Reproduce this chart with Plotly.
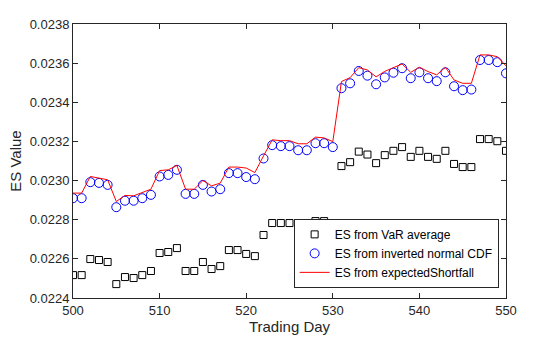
import plotly.graph_objects as go

days = list(range(500, 551))

es_var_avg = [
    0.022517, 0.022517, 0.022599, 0.022594, 0.022584, 0.022471, 0.022507, 0.022502, 0.022517, 0.022538,
    0.022630, 0.022635, 0.022655, 0.022538, 0.022538, 0.022584, 0.022548, 0.022563, 0.022645, 0.022645,
    0.022625, 0.022614, 0.022722, 0.022783, 0.022783, 0.022783, 0.022762, 0.022762, 0.022793, 0.022793,
    0.022773, 0.023074, 0.023094, 0.023148, 0.023133, 0.023089, 0.023130, 0.023152, 0.023171, 0.023121,
    0.023152, 0.023121, 0.023111, 0.023152, 0.023085, 0.023069, 0.023069, 0.023212, 0.023212, 0.023201,
    0.023152,
]

es_norm_cdf = [
    0.022910, 0.022910, 0.022992, 0.022988, 0.022978, 0.022864, 0.022897, 0.022897, 0.022910, 0.022927,
    0.023021, 0.023029, 0.023055, 0.022932, 0.022932, 0.022978, 0.022944, 0.022956, 0.023038, 0.023038,
    0.023018, 0.023007, 0.023113, 0.023181, 0.023176, 0.023176, 0.023155, 0.023155, 0.023191, 0.023191,
    0.023171, 0.023472, 0.023497, 0.023560, 0.023536, 0.023492, 0.023527, 0.023551, 0.023574, 0.023523,
    0.023553, 0.023523, 0.023508, 0.023553, 0.023482, 0.023462, 0.023465, 0.023616, 0.023616, 0.023605,
    0.023548,
]

es_expected_sf = [
    0.022936, 0.022936, 0.023021, 0.023014, 0.023004, 0.022893, 0.022924, 0.022922, 0.022939, 0.022956,
    0.023051, 0.023055, 0.023077, 0.022956, 0.022956, 0.023000, 0.022973, 0.022987, 0.023069, 0.023069,
    0.023064, 0.023041, 0.023126, 0.023208, 0.023204, 0.023204, 0.023188, 0.023188, 0.023222, 0.023218,
    0.023199, 0.023506, 0.023526, 0.023577, 0.023565, 0.023530, 0.023558, 0.023576, 0.023596, 0.023553,
    0.023579, 0.023557, 0.023540, 0.023579, 0.023514, 0.023497, 0.023497, 0.023642, 0.023642, 0.023633,
    0.023586,
]

names = ["ES from VaR average", "ES from inverted normal CDF", "ES from expectedShortfall"]

axcol = "#262626"
font_family = "Liberation Sans, Arial, sans-serif"

fig = go.Figure()
fig.add_trace(go.Scatter(
    x=days, y=es_var_avg, mode="markers", name=names[0],
    marker=dict(symbol="square-open", size=7, color="black", line=dict(width=1)),
))
fig.add_trace(go.Scatter(
    x=days, y=es_norm_cdf, mode="markers", name=names[1],
    marker=dict(symbol="circle-open", size=9, color="blue", line=dict(width=1)),
))
fig.add_trace(go.Scatter(
    x=days, y=es_expected_sf, mode="lines", name=names[2],
    line=dict(color="red", width=1),
))

fig.update_layout(
    width=560, height=337,
    margin=dict(l=73, r=54, t=24, b=39, autoexpand=False),
    paper_bgcolor="white", plot_bgcolor="white",
    font=dict(family=font_family, size=13, color=axcol),
    showlegend=True,
    legend=dict(
        x=0.983, y=0.037, xanchor="right", yanchor="bottom",
        bordercolor=axcol, borderwidth=1, bgcolor="white",
        font=dict(size=12, color="black"),
        tracegroupgap=0, itemwidth=30,
    ),
)

fig.update_xaxes(
    range=[500, 550], dtick=10, tick0=500,
    showline=True, linecolor=axcol, linewidth=1, mirror="ticks",
    ticks="inside", ticklen=5, tickcolor=axcol,
    showgrid=False, zeroline=False,
    title=dict(text="Trading Day", font=dict(size=15, color=axcol), standoff=4),
)
fig.update_yaxes(
    range=[0.0224, 0.0238], dtick=0.0002, tick0=0.0224, tickformat=".4f",
    showline=True, linecolor=axcol, linewidth=1, mirror="ticks",
    ticks="inside", ticklen=5, tickcolor=axcol,
    showgrid=False, zeroline=False,
    title=dict(text="ES Value", font=dict(size=15, color=axcol), standoff=4),
)

fig.write_html("out.html")
